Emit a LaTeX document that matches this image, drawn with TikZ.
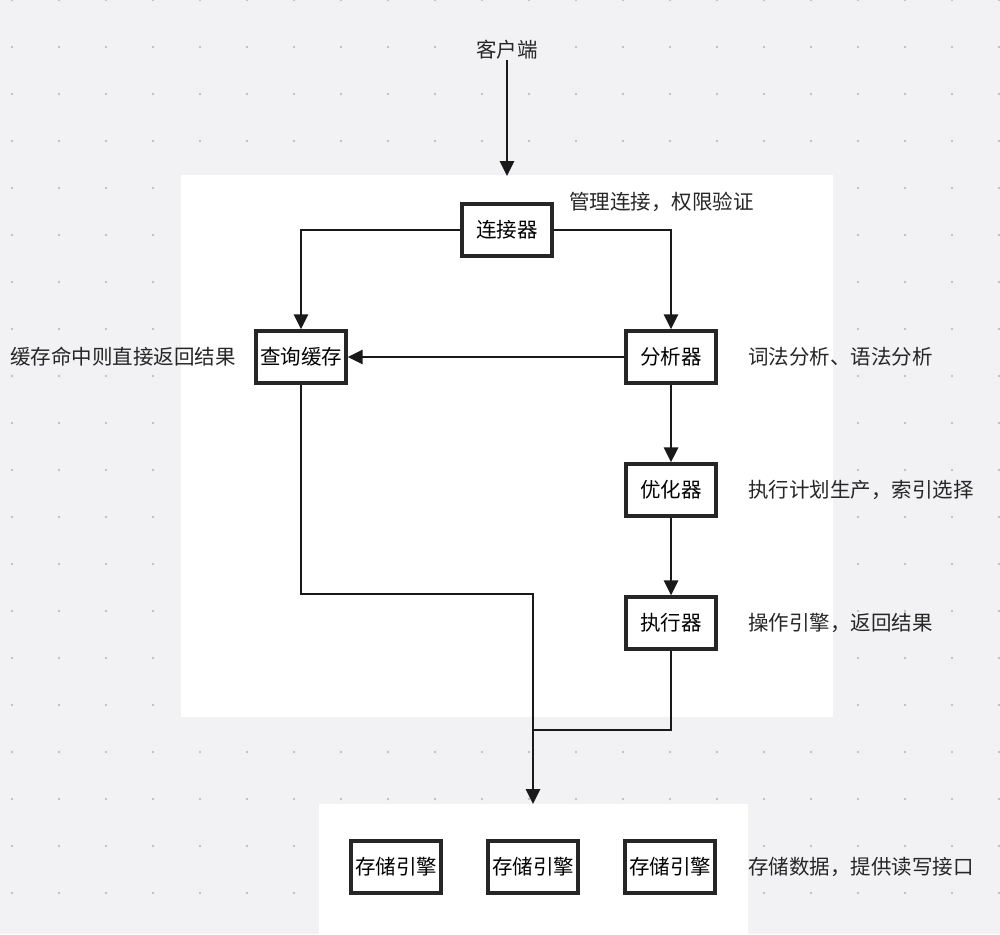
\documentclass[tikz,border=0pt]{standalone}
\usepackage{fontspec}
\setmainfont{Noto Sans CJK SC}
\usetikzlibrary{arrows.meta}
\begin{document}
\begin{tikzpicture}[x=1pt,y=-1pt,
  box/.style={draw=black!85,line width=3.2pt,fill=white,minimum width=90pt,minimum height=52pt,inner sep=0pt,font=\fontsize{20.5}{22}\selectfont},
  lbl/.style={font=\fontsize{20.5}{22}\selectfont,text=black!85,inner sep=0pt},
  conn/.style={line width=2.8pt,draw=black!90},
  arr/.style={conn,-{Triangle[length=15pt,width=14pt]}}]
\fill[fill={rgb,255:red,242;green,242;blue,244}] (0,0) rectangle (1000,934);
\useasboundingbox (0,0) rectangle (1000,934);
\foreach \i in {0,...,21}{\foreach \j in {0,...,19}{
  \fill[black!30] (12+47*\i,47*\j) circle (1.1pt);}}
\fill[white] (181,175) rectangle (833,717);
\fill[white] (319,804) rectangle (748,934);
\node[lbl] (client) at (507,50) {客户端};
\node[box] (conn) at (507,230) {连接器};
\node[box] (cache) at (301,357) {查询缓存};
\node[box] (ana) at (671,357) {分析器};
\node[box] (opt) at (671,490) {优化器};
\node[box] (exe) at (671,623) {执行器};
\node[box] (s1) at (396,867) {存储引擎};
\node[box] (s2) at (533,867) {存储引擎};
\node[box] (s3) at (670,867) {存储引擎};
\coordinate (top) at (507,176);
\coordinate (merge) at (533,730);
\coordinate (sto) at (533,804);
\node[lbl,anchor=west] (l1) at (569,202) {管理连接，权限验证};
\node[lbl,anchor=west] (l2) at (10,357) {缓存命中则直接返回结果};
\node[lbl,anchor=west] (l3) at (748,357) {词法分析、语法分析};
\node[lbl,anchor=west] (l4) at (748,490) {执行计划生产，索引选择};
\node[lbl,anchor=west] (l5) at (748,623) {操作引擎，返回结果};
\node[lbl,anchor=west] (l6) at (748,867) {存储数据，提供读写接口};
\draw[arr] (client.south) -- (top);
\draw[arr] (conn.west) -| (cache.north);
\draw[arr] (conn.east) -| (ana.north);
\draw[arr] (ana.west) -- (cache.east);
\draw[arr] (ana.south) -- (opt.north);
\draw[arr] (opt.south) -- (exe.north);
\draw[arr] (cache.south) |- (533,594) -- (sto);
\draw[conn] (exe.south) |- (merge);
\end{tikzpicture}
\end{document}
